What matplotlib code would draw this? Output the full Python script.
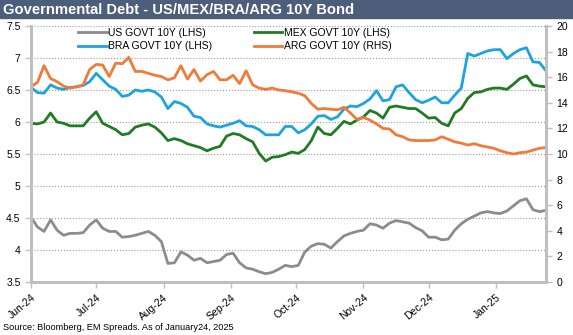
import matplotlib
matplotlib.use('Agg')
import matplotlib.pyplot as plt
import matplotlib.dates as mdates
from matplotlib.ticker import FuncFormatter
import pandas as pd

plt.rcParams['font.family'] = ['Liberation Sans', 'DejaVu Sans']

# 数据：2024-06-01 起，每 3 天一个点，到 2025-01-24
dates = pd.date_range('2024-06-01', periods=80, freq='3D')

us = [4.51, 4.36, 4.29, 4.47, 4.31, 4.23, 4.26, 4.26, 4.27, 4.39,
      4.47, 4.34, 4.29, 4.29, 4.20, 4.21, 4.23, 4.26, 4.29, 4.23,
      4.13, 3.79, 3.80, 3.97, 3.92, 3.84, 3.87, 3.80, 3.82, 3.84,
      3.93, 3.95, 3.80, 3.72, 3.70, 3.66, 3.63, 3.65, 3.70, 3.76,
      3.74, 3.76, 3.97, 4.06, 4.10, 4.09, 4.03, 4.13, 4.22, 4.26,
      4.29, 4.31, 4.41, 4.39, 4.34, 4.42, 4.46, 4.44, 4.42, 4.35,
      4.30, 4.20, 4.20, 4.16, 4.17, 4.31, 4.41, 4.48, 4.53, 4.58,
      4.60, 4.58, 4.57, 4.61, 4.69, 4.77, 4.80, 4.63, 4.60, 4.62]

mex = [5.98, 5.97, 6.00, 6.14, 6.00, 5.98, 5.94, 5.94, 5.94, 6.06,
       6.16, 5.98, 5.93, 5.88, 5.80, 5.82, 5.92, 5.95, 5.97, 5.92,
       5.83, 5.71, 5.74, 5.71, 5.66, 5.63, 5.60, 5.55, 5.59, 5.62,
       5.78, 5.82, 5.80, 5.74, 5.69, 5.51, 5.39, 5.45, 5.46, 5.49,
       5.53, 5.51, 5.57, 5.71, 5.92, 5.82, 5.80, 5.90, 6.01, 5.97,
       6.03, 6.08, 6.18, 6.14, 6.06, 6.23, 6.25, 6.23, 6.21, 6.21,
       6.14, 6.06, 6.07, 5.98, 5.94, 6.14, 6.21, 6.37, 6.46, 6.47,
       6.51, 6.53, 6.53, 6.51, 6.59, 6.68, 6.72, 6.58, 6.56, 6.55]

bra = [6.54, 6.46, 6.45, 6.58, 6.53, 6.51, 6.54, 6.55, 6.57, 6.63,
       6.76, 6.66, 6.56, 6.51, 6.40, 6.42, 6.50, 6.48, 6.50, 6.47,
       6.39, 6.21, 6.32, 6.29, 6.23, 6.09, 6.07, 5.97, 5.94, 5.92,
       5.95, 5.98, 6.02, 5.94, 5.93, 5.88, 5.80, 5.80, 5.80, 5.93,
       5.93, 5.83, 5.88, 5.97, 6.09, 6.10, 6.04, 6.08, 6.20, 6.25,
       6.24, 6.29, 6.36, 6.49, 6.33, 6.35, 6.55, 6.58, 6.46, 6.35,
       6.30, 6.34, 6.39, 6.30, 6.30, 6.42, 6.53, 7.07, 7.03, 7.07,
       7.11, 7.13, 7.13, 6.99, 7.07, 7.13, 7.16, 6.94, 6.93, 6.80]

arg = [15.25, 15.6, 16.9, 15.9, 15.65, 15.3, 15.15, 15.25, 15.4, 16.6,
       17.0, 16.95, 16.05, 17.1, 17.05, 17.55, 16.45, 16.45, 16.3, 16.15,
       16.05, 15.8, 15.95, 16.9, 15.85, 16.6, 15.7, 16.2, 16.45, 15.8,
       15.8, 16.15, 15.5, 16.5, 15.4, 15.15, 15.05, 15.15, 15.0, 14.95,
       14.85, 14.75, 14.55, 13.95, 13.5, 13.55, 13.5, 13.45, 13.65, 13.2,
       12.7, 12.85, 12.65, 12.35, 12.0, 11.95, 11.5, 11.35, 11.1, 11.05,
       11.05, 11.05, 11.1, 11.35, 11.15, 10.95, 10.85, 10.7, 10.8, 10.65,
       10.55, 10.45, 10.25, 10.1, 10.0, 10.1, 10.15, 10.3, 10.45, 10.5]

c_us, c_mex, c_bra, c_arg = '#8c8c8c', '#227a24', '#1ea4dc', '#ef7b38'
spine_c = '#bfbfbf'

fig = plt.figure(figsize=(5.73, 3.35), dpi=100)
fig.patches.append(plt.Rectangle((0, 1 - 18 / 335), 1, 18 / 335, transform=fig.transFigure,
                                 color='#4d5e7a', zorder=0))
fig.text(0.006, 1 - 9.5 / 335, 'Governmental Debt - US/MEX/BRA/ARG 10Y Bond', color='white',
         fontsize=10.6, fontweight='bold', va='center', ha='left')
fig.text(0.006, 1 - 327 / 335, 'Source: Bloomberg, EM Spreads. As of January24, 2025',
         fontsize=6.6, va='center', ha='left')

ax = fig.add_axes([31 / 573, 1 - 282 / 335, 515 / 573, 256 / 335])
ax2 = ax.twinx()

l1, = ax.plot(dates, us, color=c_us, lw=2, label='US GOVT 10Y (LHS)')
l2, = ax.plot(dates, mex, color=c_mex, lw=2, label='MEX GOVT 10Y (LHS)')
l3, = ax.plot(dates, bra, color=c_bra, lw=2, label='BRA GOVT 10Y (LHS)')
l4, = ax2.plot(dates, arg, color=c_arg, lw=2, label='ARG GOVT 10Y (RHS)')

ax.set_ylim(3.5, 7.5)
ax.set_yticks([3.5, 4, 4.5, 5, 5.5, 6, 6.5, 7, 7.5])
ax.yaxis.set_major_formatter(FuncFormatter(lambda v, p: '%g' % v))
ax2.set_ylim(0, 20)
ax2.set_yticks(range(0, 21, 2))
ax.set_xlim(pd.Timestamp('2024-06-01'), pd.Timestamp('2025-01-24'))
ax.xaxis.set_major_locator(mdates.MonthLocator())
ax.xaxis.set_major_formatter(mdates.DateFormatter('%b-%y'))

ax.grid(axis='y', linestyle=':', color='#9a9a9a', lw=0.8)
ax.set_axisbelow(True)

for a in (ax, ax2):
    a.spines['top'].set_visible(False)
    for s in ('left', 'right', 'bottom'):
        a.spines[s].set_color(spine_c)
        a.spines[s].set_linewidth(2)
    a.tick_params(colors='black', labelsize=7.5, length=4, width=1, color=spine_c)

for lbl in ax.get_xticklabels():
    lbl.set_rotation(40)
    lbl.set_ha('right')
    lbl.set_rotation_mode('anchor')

ax2.legend([l1, l3, l2, l4], [l.get_label() for l in (l1, l3, l2, l4)], ncol=2, frameon=False,
           loc='upper left', bbox_to_anchor=(0.074, 1.03), fontsize=7.5, handlelength=2.7,
           handletextpad=0.15, columnspacing=4.0, labelspacing=0.35)

fig.savefig('out.png', dpi=100)
